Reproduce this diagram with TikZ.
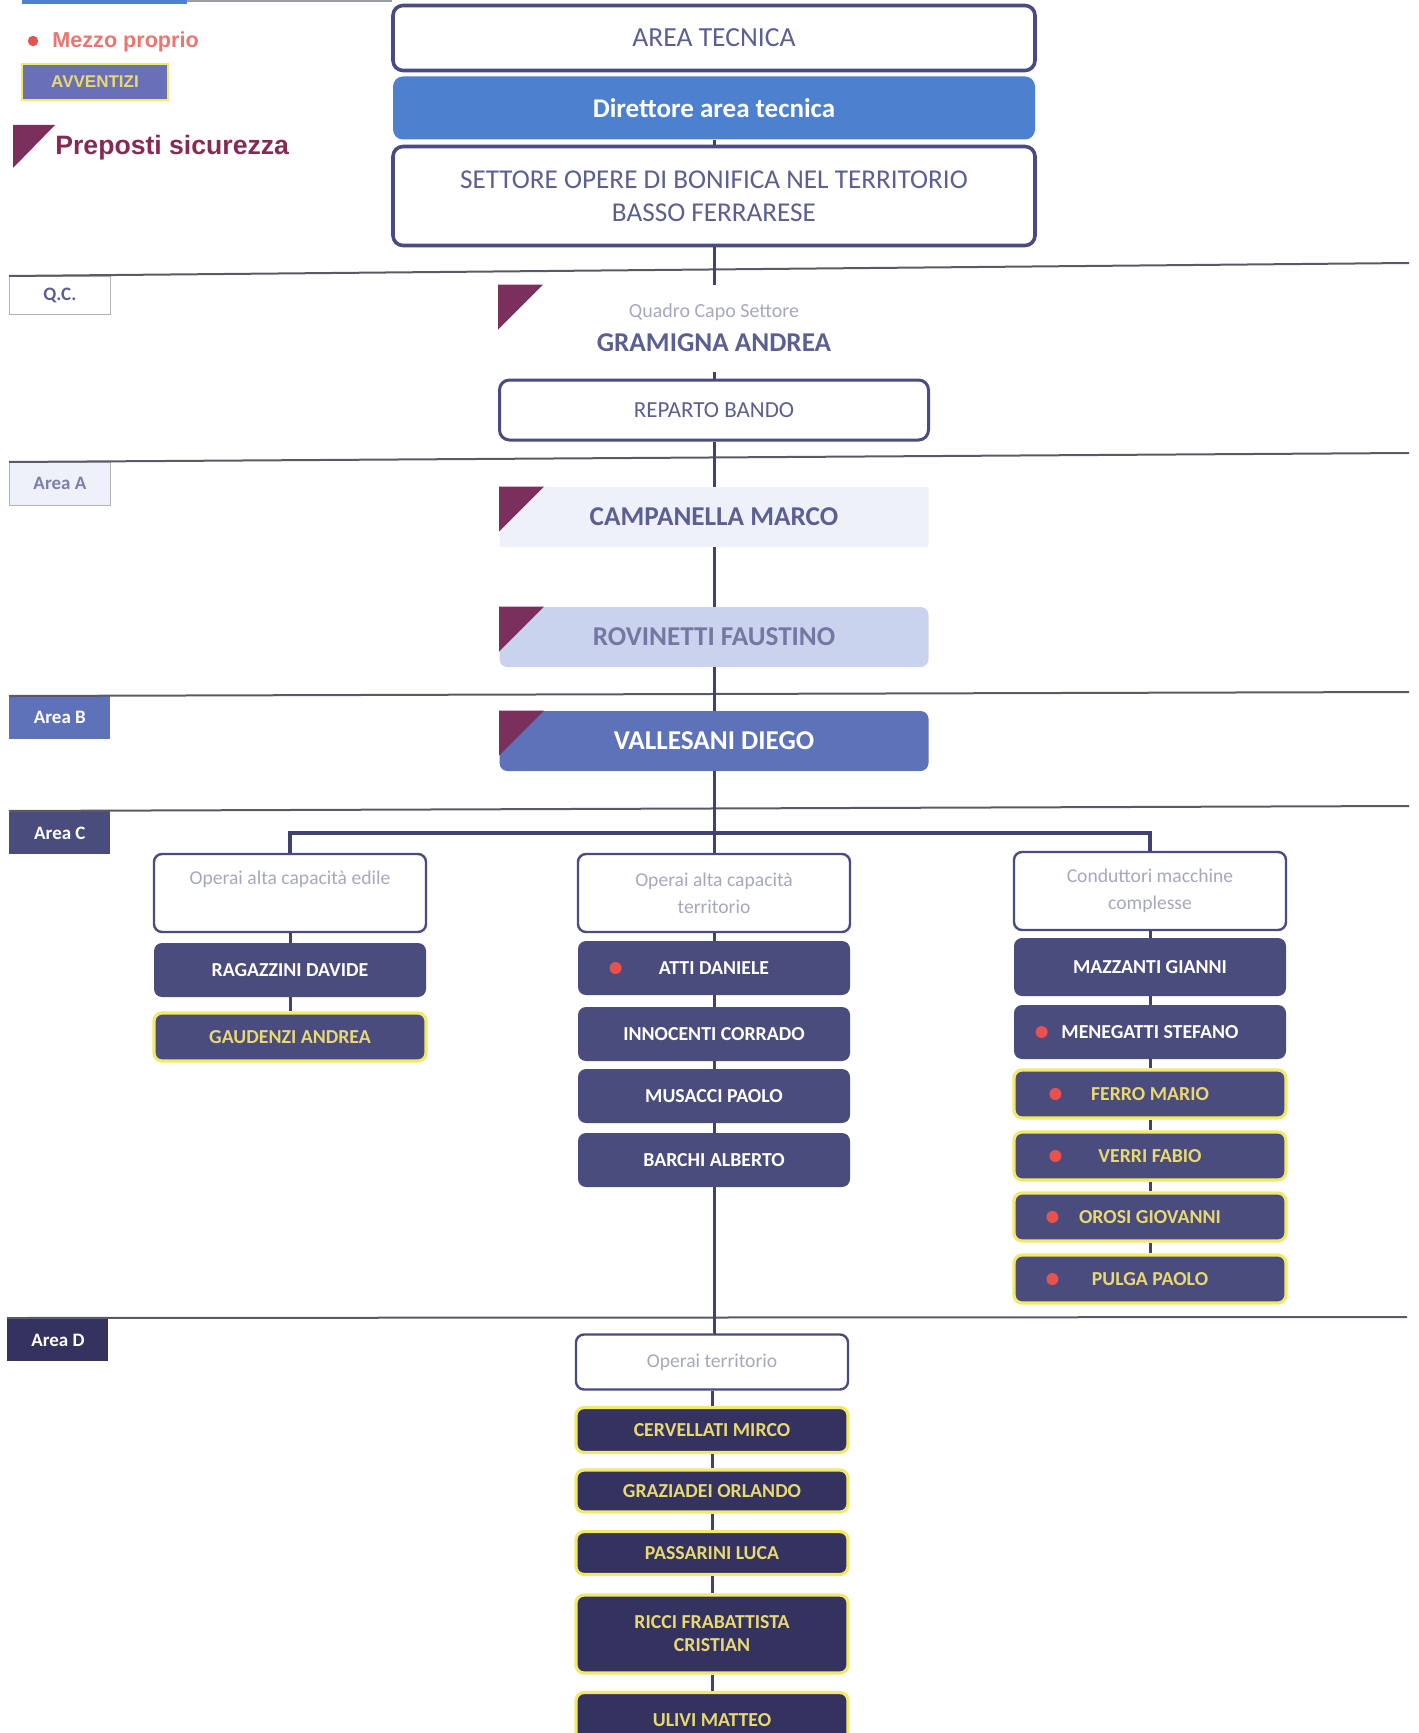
\documentclass[tikz,border=0pt]{standalone}
\usepackage{fontspec}
\setmainfont{Carlito}
\newfontfamily\arial{Liberation Sans}
\definecolor{linea}{HTML}{3F4272}
\definecolor{bordo}{HTML}{4A4B82}
\definecolor{testo}{HTML}{5B5F92}
\definecolor{grigio}{HTML}{A6A8BE}
\definecolor{dirblu}{HTML}{4E80D0}
\definecolor{campa}{HTML}{EEF1FA}
\definecolor{rovi}{HTML}{C9D3EE}
\definecolor{valle}{HTML}{5D72B8}
\definecolor{scuro}{HTML}{4A4C7E}
\definecolor{scurod}{HTML}{343360}
\definecolor{giallo}{HTML}{F2E86A}
\definecolor{giallot}{HTML}{E8D870}
\definecolor{rosso}{HTML}{E8524E}
\definecolor{prep}{HTML}{7A2F5C}
\definecolor{sepa}{HTML}{5A5A66}
\definecolor{avvblu}{HTML}{6A70B8}
\newcommand{\Preposto}[1]{\fill[prep] (#1) -- ++(45,0) -- ++(-45,45) -- cycle;}
\newcommand{\Mezzo}[2]{\fill[rosso] ([xshift=#2]#1.west) circle (3pt);}

\begin{document}
\begin{tikzpicture}[x=0.5pt,y=-0.5pt,
    unita/.style={draw=bordo,line width=1.8pt,fill=white,rounded corners=5pt,text=testo,minimum width=321pt,align=center},
    capo/.style={minimum width=214.5pt,minimum height=30pt,rounded corners=4pt,font=\bfseries\fontsize{13.6}{16}\selectfont},
    testa/.style={draw=bordo,line width=1.2pt,fill=white,rounded corners=4pt,text=grigio,minimum width=136pt,minimum height=39pt,align=center,font=\fontsize{9.8}{13.5}\selectfont},
    nome/.style={fill=scuro,rounded corners=4pt,text=white,minimum width=136pt,minimum height=27pt,align=center,font=\bfseries\fontsize{9.9}{11.5}\selectfont},
    avv/.style={draw=giallo,line width=1.6pt,text=giallot,minimum height=24pt},
    areabox/.style={anchor=north west,minimum width=50.5pt,minimum height=21.5pt,inner sep=0pt,font=\bfseries\fontsize{9.5}{11}\selectfont},
    link/.style={draw=linea,line width=1.5pt},
    riga/.style={draw=sepa,line width=1pt}]
\useasboundingbox (0,0) rectangle (1418,1733);

\fill[dirblu] (22,0) rectangle (187,4);
\draw[sepa!60,line width=0.6pt] (187,1) -- (392,1);

\fill[rosso] (33,41) circle (2.6pt);
\node[anchor=west,inner sep=0pt,text=rosso!80!white,font=\arial\bfseries\fontsize{10.8}{12}\selectfont] (Mezz) at (52,42) {Mezzo proprio};
\node[fill=avvblu,draw=giallo,line width=1.2pt,text=giallot,minimum width=73pt,minimum height=18pt,font=\arial\bfseries\fontsize{8.5}{10}\selectfont] (Avve) at (95,82) {AVVENTIZI};
\fill[prep] (13,125) -- (55,125) -- (13,168) -- cycle;
\node[anchor=west,inner sep=0pt,text=prep!90!red,font=\arial\bfseries\fontsize{13.3}{15}\selectfont] (Prep) at (55,148) {Preposti sicurezza};

\node[areabox,fill=white,draw=gray!60,text=testo,minimum height=19pt] (Lqc) at (9,276) {Q.C.};
\node[areabox,fill=campa,draw=gray!60,text=testo!80] (La) at (9,462) {Area A};
\node[areabox,fill=valle,text=white] (Lb) at (9,696) {Area B};
\node[areabox,fill=scuro,text=white] (Lc) at (9,811) {Area C};
\node[areabox,fill=scurod,text=white] (Ld) at (7,1318) {Area D};
\draw[riga] (Lqc.north west) -- ++(1400,-13);
\draw[riga] (La.north west) -- ++(1400,-9);
\draw[riga] (Lb.north west) -- ++(1400,-4);
\draw[riga] (Lc.north west) -- ++(1400,-5);
\draw[riga] (Ld.north west) -- ++(1400,-1);

\node[unita,minimum height=32.5pt,font=\fontsize{13.8}{15}\selectfont] (Area) at (714,38) {AREA TECNICA};
\node[fill=dirblu,rounded corners=5pt,minimum width=321pt,minimum height=31.5pt,text=white,font=\bfseries\fontsize{13.5}{15}\selectfont] (Dire) at (714,108) {Direttore area tecnica};
\node[unita,minimum height=49.5pt,font=\fontsize{13.6}{16.5}\selectfont] (Sett) at (714,196) {SETTORE OPERE DI BONIFICA NEL TERRITORIO\\BASSO FERRARESE};

\node[text=grigio,minimum height=27pt,font=\fontsize{10}{12}\selectfont] (Qcs) at (714,312) {Quadro Capo Settore};
\node[text=testo,minimum height=29pt,font=\bfseries\fontsize{13.6}{16}\selectfont] (Capo) at (714,343) {GRAMIGNA ANDREA};
\node[unita,minimum width=214.5pt,minimum height=30pt,line width=1.5pt,font=\fontsize{11.5}{13}\selectfont] (Repa) at (714,410) {REPARTO BANDO};
\node[capo,fill=campa,text=testo,rounded corners=1pt] (Camp) at (714,517) {CAMPANELLA MARCO};
\node[capo,fill=rovi,text=testo!85] (Rovi) at (714,637) {ROVINETTI FAUSTINO};
\node[capo,fill=valle,text=white] (Vall) at (714,741) {VALLESANI DIEGO};
\Preposto{Repa.west |- Qcs.north}
\Preposto{Camp.north west}
\Preposto{Rovi.north west}
\Preposto{Vall.north west}

\node[testa] (Edil) at (290,893) {Operai alta capacità edile\\\phantom{p}};
\node[testa] (Terr) at (714,893) {Operai alta capacità\\territorio};
\node[testa] (Cond) at (1150,891) {Conduttori macchine\\complesse};

\node[nome] (Raga) at (290,970) {RAGAZZINI DAVIDE};
\node[nome,avv] (Gaud) at (290,1037) {GAUDENZI ANDREA};

\node[nome] (Atti) at (714,968) {ATTI DANIELE};
\node[nome] (Inno) at (714,1034) {INNOCENTI CORRADO};
\node[nome] (Musa) at (714,1096) {MUSACCI PAOLO};
\node[nome] (Barc) at (714,1160) {BARCHI ALBERTO};

\node[nome,minimum height=29pt] (Mazz) at (1150,967) {MAZZANTI GIANNI};
\node[nome] (Mene) at (1150,1032) {MENEGATTI STEFANO};
\node[nome,avv] (Ferr) at (1150,1094) {FERRO MARIO};
\node[nome,avv] (Verr) at (1150,1156) {VERRI FABIO};
\node[nome,avv] (Oros) at (1150,1217) {OROSI GIOVANNI};
\node[nome,avv] (Pulg) at (1150,1279) {PULGA PAOLO};
\Mezzo{Atti}{19pt}
\Mezzo{Mene}{14pt}
\Mezzo{Ferr}{21.5pt}
\Mezzo{Verr}{21.5pt}
\Mezzo{Oros}{20pt}
\Mezzo{Pulg}{20pt}

\node[testa,minimum height=27.5pt] (Oper) at (712,1362) {Operai territorio};
\node[nome,avv,fill=scurod,minimum height=22.5pt] (Cerv) at (712,1430) {CERVELLATI MIRCO};
\node[nome,avv,fill=scurod,minimum height=21pt] (Graz) at (712,1491) {GRAZIADEI ORLANDO};
\node[nome,avv,fill=scurod,minimum height=21.5pt] (Pass) at (712,1553) {PASSARINI LUCA};
\node[nome,avv,fill=scurod,minimum height=39pt] (Ricc) at (712,1634) {RICCI FRABATTISTA\\CRISTIAN};
\node[nome,avv,fill=scurod,minimum height=27.5pt] (Uliv) at (712,1720) {ULIVI MATTEO};

\coordinate (Bivio) at (714,833);
\draw[link] (Dire) -- (Sett);
\draw[link] (Sett) -- (Qcs);
\draw[link] (Capo) -- (Repa) -- (Camp) -- (Rovi) -- (Vall) -- (Terr) -- (Atti) -- (Inno) -- (Musa) -- (Barc);
\draw[link] (Barc) -- (Oper.north -| Barc) -- (Oper);
\draw[link] (Oper) -- (Cerv) -- (Graz) -- (Pass) -- (Ricc) -- (Uliv);
\draw[link,line width=2pt] (Edil) |- (Bivio) -| (Cond);
\draw[link] (Edil) -- (Raga) -- (Gaud);
\draw[link] (Cond) -- (Mazz) -- (Mene) -- (Ferr) -- (Verr) -- (Oros) -- (Pulg);
\end{tikzpicture}
\end{document}
